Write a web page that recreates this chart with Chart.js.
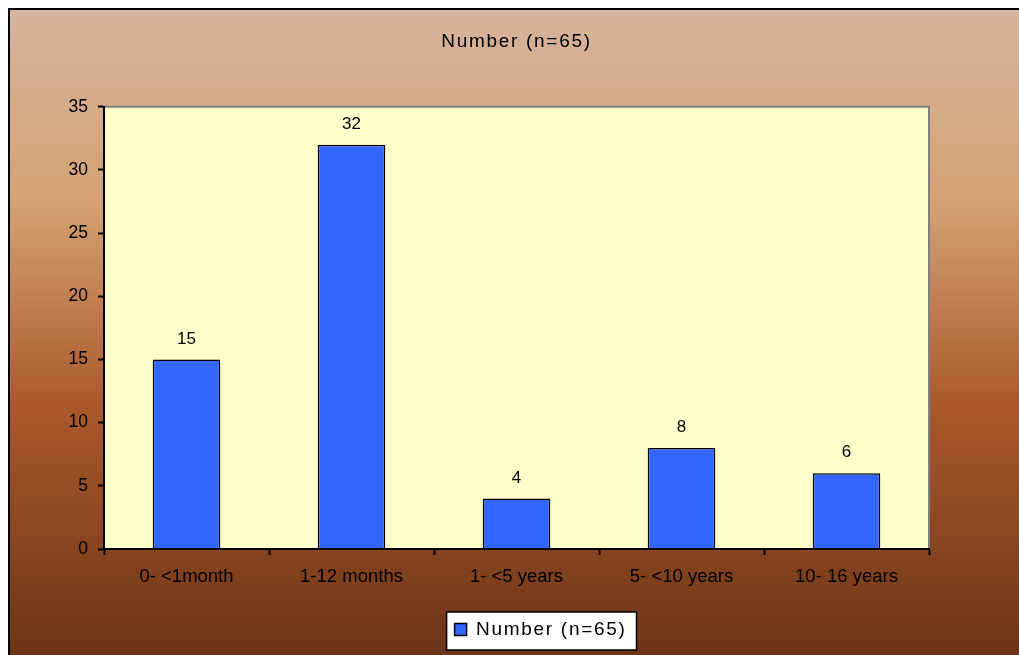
<!DOCTYPE html>
<html>
<head>
<meta charset="utf-8">
<script src="https://cdn.jsdelivr.net/npm/chart.js@4.4.1/dist/chart.umd.min.js"></script>
<style>
  html, body { margin: 0; padding: 0; background: #fff; }
  #wrap { width: 1019px; height: 655px; position: relative; }
</style>
</head>
<body>
<div id="wrap"><canvas id="c" width="1019" height="655"></canvas></div>
<script>
  const categories = ["0- <1month", "1-12 months", "1- <5 years", "5- <10 years", "10- 16 years"];
  const counts = [15, 32, 4, 8, 6];
  const seriesName = "Number (n=65)";
  const yTicks = [0, 5, 10, 15, 20, 25, 30, 35];

  const FONT = "'Liberation Sans', Arial, sans-serif";
  const SPACING = 1.7; // title/legend text is drawn a bit wider in the original
  const LEGEND_SHIFT = 13;

  const decor = {
    id: "decor",
    afterLayout(chart) {
      // nudge legend a little to the right, like the original
      const lg = chart.legend;
      if (!lg) return;
      lg.left += LEGEND_SHIFT;
      lg.right += LEGEND_SHIFT;
      (lg.legendHitBoxes || []).forEach(hb => { hb.left += LEGEND_SHIFT; });
    },
    beforeDraw(chart) {
      const { ctx, width, height, chartArea: a } = chart;
      ctx.save();
      ctx.fillStyle = "#fff";
      ctx.fillRect(0, 0, width, height);
      const g = ctx.createLinearGradient(0, 8, 0, height);
      g.addColorStop(0, "#d6b49e");
      g.addColorStop(0.3, "#d4a274");
      g.addColorStop(0.62, "#a9582b");
      g.addColorStop(1, "#6c3518");
      ctx.fillStyle = g;
      ctx.fillRect(9, 9, width, height);
      ctx.strokeStyle = "#000";
      ctx.lineWidth = 2;
      ctx.beginPath();
      ctx.moveTo(9, height + 2);
      ctx.lineTo(9, 9);
      ctx.lineTo(width + 2, 9);
      ctx.stroke();
      ctx.fillStyle = "#ffffcc";
      ctx.fillRect(a.left, a.top, a.right - a.left, a.bottom - a.top);
      ctx.strokeStyle = "#808080";
      ctx.lineWidth = 2;
      ctx.beginPath();
      ctx.moveTo(a.left, a.top);
      ctx.lineTo(a.right, a.top);
      ctx.lineTo(a.right, a.bottom);
      ctx.stroke();
      // white legend box
      const lg = chart.legend;
      if (lg && lg.legendHitBoxes && lg.legendHitBoxes.length) {
        const hb = lg.legendHitBoxes[0];
        const x0 = hb.left - 8, y0 = hb.top - 8;
        const w = hb.width + seriesName.length * SPACING + 18;
        const h = hb.height + 19;
        ctx.fillStyle = "#fff";
        ctx.fillRect(x0, y0, w, h);
        ctx.strokeStyle = "#000";
        ctx.lineWidth = 1.5;
        ctx.strokeRect(x0, y0, w, h);
      }
      ctx.restore();
      ctx.letterSpacing = SPACING + "px";
    },
    beforeDatasetsDraw(chart) {
      chart.ctx.letterSpacing = "0px";
    },
    afterDatasetsDraw(chart) {
      const { ctx } = chart;
      const meta = chart.getDatasetMeta(0);
      ctx.save();
      ctx.fillStyle = "#000";
      ctx.font = "17px " + FONT;
      ctx.textAlign = "center";
      ctx.textBaseline = "bottom";
      meta.data.forEach((bar, i) => {
        ctx.fillText(String(counts[i]), bar.x, bar.y - 12);
      });
      ctx.restore();
    }
  };

  new Chart(document.getElementById("c"), {
    type: "bar",
    data: {
      labels: categories,
      datasets: [{
        label: seriesName,
        data: counts,
        backgroundColor: "#3366ff",
        borderColor: "#000",
        borderWidth: 1.5,
        categoryPercentage: 1,
        barPercentage: 0.41
      }]
    },
    options: {
      responsive: false,
      animation: false,
      layout: { padding: { left: 0, right: 90, top: 0, bottom: 6 } },
      plugins: {
        title: {
          display: true,
          fullSize: false,
          text: seriesName,
          color: "#000",
          font: { family: FONT, size: 19, weight: "normal" },
          padding: { top: 30, bottom: 54 }
        },
        legend: {
          position: "bottom",
          fullSize: false,
          labels: {
            color: "#000",
            font: { family: FONT, size: 19 },
            boxWidth: 12,
            boxHeight: 12,
            padding: 10
          }
        },
        tooltip: { enabled: false }
      },
      scales: {
        x: {
          grid: { display: true, drawOnChartArea: false, offset: true, color: "#000", tickLength: 6, tickWidth: 2, z: 1 },
          border: { color: "#000", width: 2, z: 1 },
          ticks: { color: "#000", font: { family: FONT, size: 18.5 }, padding: 11, z: 1 },
          afterFit(s) { s.height = 61; }
        },
        y: {
          min: 0,
          max: 35,
          grid: { display: true, drawOnChartArea: false, color: "#000", tickLength: 6, tickWidth: 2, z: 1 },
          border: { color: "#000", width: 2, z: 1 },
          ticks: {
            stepSize: 5,
            color: "#000",
            font: { family: FONT, size: 17.5 },
            padding: 10,
            z: 1,
            callback: (v) => yTicks.includes(v) ? String(v) : ""
          },
          afterFit(s) { s.width = 104; }
        }
      }
    },
    plugins: [decor]
  });
</script>
</body>
</html>
